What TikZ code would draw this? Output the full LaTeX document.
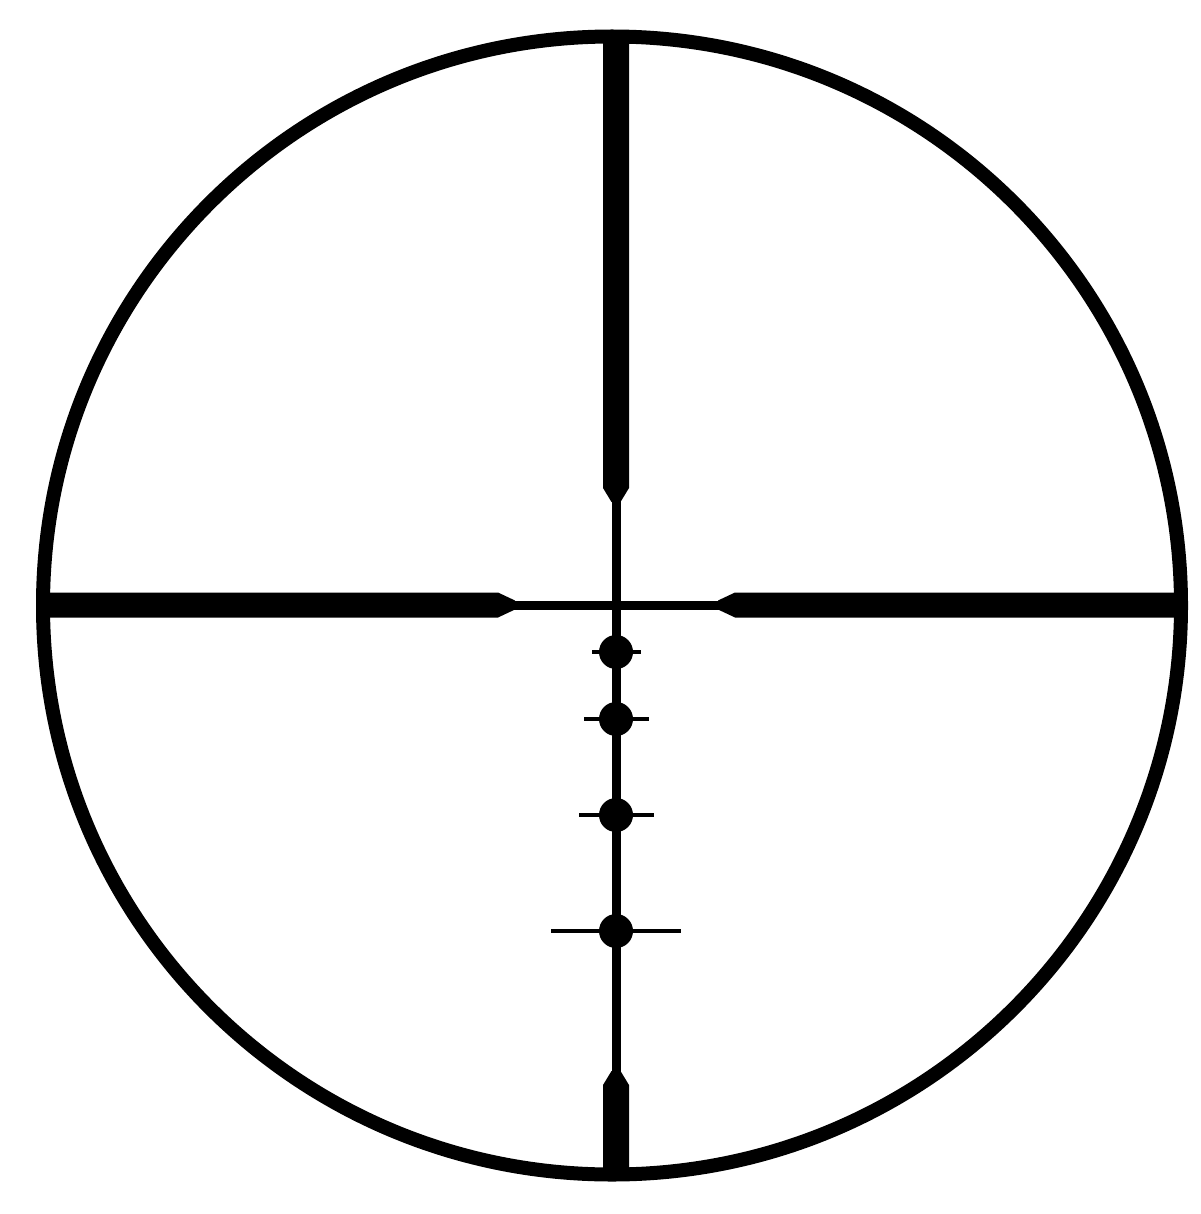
\documentclass[tikz,border=0pt]{standalone}
\begin{document}
\begin{tikzpicture}[x=1pt,y=-1pt,
  ink/.style={fill=black,draw=none},
  rim/.style={draw=black,line width=14pt},
  tick/.style={draw=black,line width=4pt},
  dotmark/.style={fill=black,draw=none}]
\useasboundingbox (0,0) rectangle (1200,1214);
% thin crosshair lines
\fill[ink] (611.5,490) rectangle (620.5,1083);
\fill[ink] (500,600.5) rectangle (733,609.5);
% top post
\fill[ink] (603,40) -- (629,40) -- (629,488) -- (620.5,502) -- (611.5,502) -- (603,488) -- cycle;
% bottom post
\fill[ink] (603,1172) -- (603,1085) -- (611.5,1071) -- (620.5,1071) -- (629,1085) -- (629,1172) -- cycle;
% left post
\fill[ink] (46,592.5) -- (498,592.5) -- (515,600.5) -- (515,609.5) -- (498,617.5) -- (46,617.5) -- cycle;
% right post
\fill[ink] (1178,592.5) -- (735,592.5) -- (718,600.5) -- (718,609.5) -- (735,617.5) -- (1178,617.5) -- cycle;
% holdover dots and ticks
\draw[tick] (592,652) -- (641,652);
\fill[dotmark] (616,652) circle (17);
\draw[tick] (584,719) -- (649,719);
\fill[dotmark] (616,719) circle (17);
\draw[tick] (579,815) -- (654,815);
\fill[dotmark] (616,815) circle (17);
\draw[tick] (551,931) -- (681,931);
\fill[dotmark] (616,931) circle (17);
% outer rim
\draw[rim] (612,605.5) circle (569);
\end{tikzpicture}
\end{document}
